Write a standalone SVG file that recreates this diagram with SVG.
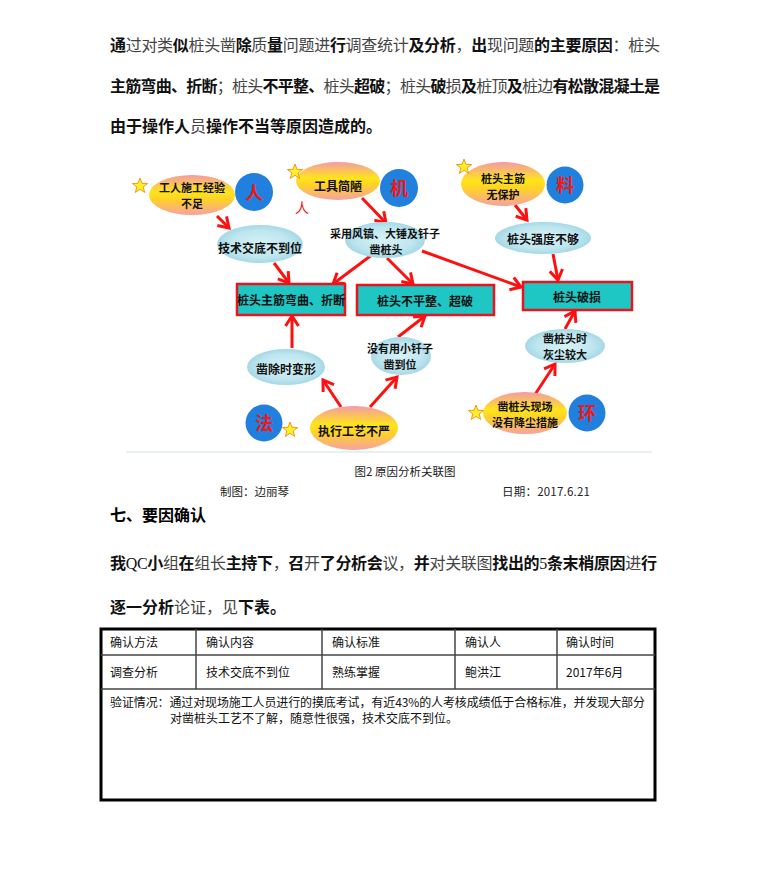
<svg xmlns="http://www.w3.org/2000/svg" xmlns:xlink="http://www.w3.org/1999/xlink" width="767" height="879" viewBox="0 0 767 879">
<style>
text{font-family:"Noto Sans CJK SC","Noto Sans",sans-serif;}
.p{font-size:16px;font-weight:bold;fill:#111;}
.r{font-weight:normal;fill:#444;}
.sf{font-family:"Liberation Serif","Noto Sans CJK SC",serif;font-weight:normal;}
.h{font-size:16px;font-weight:bold;fill:#000;}
.cap{font-size:11.5px;fill:#222;}
.t{font-size:12px;fill:#111;}
.n{font-size:12px;font-weight:bold;fill:#111;text-anchor:middle;dominant-baseline:central;}
.n2{font-size:11px;font-weight:bold;fill:#111;text-anchor:middle;dominant-baseline:central;}
.warm{fill:url(#gWarm);}
.cool{fill:url(#gCool);}
.box{fill:#1ec6c4;stroke:#e8141e;stroke-width:2.5;}
.dot{fill:#2180de;}
.lab{font-size:18px;font-weight:bold;fill:#f01818;text-anchor:middle;dominant-baseline:central;}
.star{fill:#fff02a;stroke:#f09a1a;stroke-width:1;}
.ar{stroke:#ff1010;stroke-width:3;fill:none;marker-end:url(#arw);}
.tl{stroke:#444;stroke-width:1.5;}
</style>
<defs>
<linearGradient id="gWarm" x1="0" y1="0" x2="0" y2="1">
<stop offset="0" stop-color="#f59aa6"/>
<stop offset="0.42" stop-color="#ffe41c"/>
<stop offset="0.6" stop-color="#ffd326"/>
<stop offset="1" stop-color="#f7a2a0"/>
</linearGradient>
<radialGradient id="gCool" cx="0.5" cy="0.5" r="0.5">
<stop offset="0" stop-color="#d6f2f7"/>
<stop offset="0.7" stop-color="#bfe6ef"/>
<stop offset="1" stop-color="#a5d8e6"/>
</radialGradient>
<polygon id="star" class="star" points="0,-8 1.94,-2.67 7.61,-2.47 3.14,1.02 4.7,6.47 0,3.3 -4.7,6.47 -3.14,1.02 -7.61,-2.47 -1.94,-2.67"/>
<marker id="arw" markerUnits="userSpaceOnUse" markerWidth="16" markerHeight="16" refX="12" refY="8" orient="auto" viewBox="0 0 16 16">
<path d="M2,1.5 L12,8 L2,14.5" fill="none" stroke="#ff1010" stroke-width="3" stroke-linejoin="miter"/>
</marker>
</defs>
<rect width="767" height="879" fill="#fff"/>

<g id="intro">
<text class="p" x="110" y="51" textLength="550" lengthAdjust="spacing">通<tspan class="r">过对类</tspan>似<tspan class="r">桩头凿</tspan>除<tspan class="r">质</tspan>量<tspan class="r">问题进</tspan>行<tspan class="r">调查统计</tspan>及分析<tspan class="r">，</tspan>出<tspan class="r">现问题</tspan>的主要原因<tspan class="r">：桩头</tspan></text>
<text class="p" x="110" y="92" textLength="550" lengthAdjust="spacing">主筋弯曲、折断<tspan class="r">；桩头</tspan>不平整、<tspan class="r">桩头</tspan>超破<tspan class="r">；桩头</tspan>破<tspan class="r">损</tspan>及<tspan class="r">桩顶</tspan>及<tspan class="r">桩边</tspan>有松散混凝土是</text>
<text class="p" x="110" y="132">由于操作人<tspan class="r">员</tspan>操作不当等原因造成的。</text>
</g>

<line x1="126" y1="452" x2="652" y2="452" stroke="#e1ebf0" stroke-width="1.5"/>

<g id="connectors">
<line class="ar" x1="217" y1="216" x2="229" y2="228"/>
<line class="ar" x1="274" y1="263" x2="289" y2="283"/>
<line class="ar" x1="362" y1="198" x2="386" y2="223"/>
<line class="ar" x1="373" y1="254" x2="333" y2="284"/>
<line class="ar" x1="387" y1="258" x2="413" y2="284"/>
<line class="ar" x1="422" y1="251" x2="521" y2="287"/>
<line class="ar" x1="515" y1="205" x2="527" y2="220"/>
<line class="ar" x1="553" y1="254" x2="558" y2="280"/>
<line class="ar" x1="292" y1="348" x2="292" y2="316"/>
<line class="ar" x1="398" y1="337" x2="425" y2="316"/>
<line class="ar" x1="341" y1="407" x2="323" y2="380"/>
<line class="ar" x1="370" y1="407" x2="397" y2="377"/>
<line class="ar" x1="534" y1="396" x2="555" y2="364"/>
<line class="ar" x1="565" y1="329" x2="575" y2="311"/>
</g>

<g id="n-worker">
<ellipse class="warm" cx="192" cy="195" rx="43" ry="20"/>
<text class="n2" x="192" y="187">工人施工经验<tspan x="192" dy="16">不足</tspan></text>
<use href="#star" x="140" y="186"/>
</g>
<g id="c-ren"><circle class="dot" cx="254" cy="192" r="19"/><text class="lab" x="254" y="191">人</text></g>

<g id="n-tools">
<ellipse class="warm" cx="338" cy="181" rx="42" ry="19"/>
<text class="n" x="338" y="185">工具简陋</text>
<use href="#star" x="295" y="172"/>
<text x="302" y="207" font-size="14" fill="#f01818" text-anchor="middle" dominant-baseline="central">人</text>
</g>
<g id="c-ji"><circle class="dot" cx="399" cy="188" r="19"/><text class="lab" x="399" y="187">机</text></g>

<g id="n-rebar">
<ellipse class="warm" cx="503" cy="184" rx="42" ry="22"/>
<text class="n2" x="503" y="178">桩头主筋<tspan x="503" dy="16">无保护</tspan></text>
<use href="#star" x="464" y="167"/>
</g>
<g id="c-liao"><circle class="dot" cx="565" cy="185" r="18.5"/><text class="lab" x="565" y="184">料</text></g>

<g id="n-brief">
<ellipse class="cool" cx="260" cy="244" rx="43" ry="19"/>
<text class="n" x="260" y="247">技术交底不到位</text>
</g>

<g id="n-hammer">
<ellipse class="cool" cx="385" cy="240" rx="40" ry="18"/>
<text class="n2" x="385" y="233">采用风镐、大锤及钎子<tspan x="386" dy="16">凿桩头</tspan></text>
</g>

<g id="n-strength">
<ellipse class="cool" cx="543" cy="238" rx="48" ry="16"/>
<text class="n" x="543" y="238">桩头强度不够</text>
</g>

<g id="b-bend">
<rect class="box" x="237" y="284" width="108" height="31"/>
<text class="n" x="291" y="299">桩头主筋弯曲、折断</text>
</g>
<g id="b-uneven">
<rect class="box" x="357" y="285" width="137" height="30"/>
<text class="n" x="425" y="300">桩头不平整、超破</text>
</g>
<g id="b-damage">
<rect class="box" x="523" y="282" width="109" height="28"/>
<text class="n" x="577" y="296">桩头破损</text>
</g>

<g id="n-deform">
<ellipse class="cool" cx="286" cy="367" rx="39" ry="18"/>
<text class="n" x="286" y="368">凿除时变形</text>
</g>

<g id="n-small">
<ellipse class="cool" cx="401" cy="356" rx="30" ry="19"/>
<text class="n2" x="400" y="348">没有用小钎子<tspan x="400" dy="16">凿到位</tspan></text>
</g>

<g id="n-dust">
<ellipse class="cool" cx="565" cy="346" rx="40" ry="17"/>
<text class="n2" x="565" y="338">凿桩头时<tspan x="565" dy="16">灰尘较大</tspan></text>
</g>

<g id="n-process">
<ellipse class="warm" cx="354" cy="428" rx="44" ry="22"/>
<text class="n" x="354" y="430">执行工艺不严</text>
<use href="#star" x="290" y="430"/>
</g>
<g id="c-fa"><circle class="dot" cx="264" cy="423" r="18.5"/><text class="lab" x="264" y="422">法</text></g>

<g id="n-site">
<ellipse class="warm" cx="525" cy="413" rx="42" ry="21"/>
<text class="n2" x="525" y="406">凿桩头现场<tspan x="525" dy="16">没有降尘措施</tspan></text>
<use href="#star" x="476" y="413"/>
</g>
<g id="c-huan"><circle class="dot" cx="587" cy="413" r="18.5"/><text class="lab" x="587" y="412">环</text></g>

<g id="captions">
<text class="cap" x="405" y="476" text-anchor="middle">图2 原因分析关联图</text>
<text class="cap" x="220" y="496">制图：边丽琴</text>
<text class="cap" x="502" y="496" textLength="88" lengthAdjust="spacing">日期：2017.6.21</text>
</g>

<g id="section">
<text class="h" x="110" y="521">七、要因确认</text>
<text class="p" x="110" y="569" textLength="547" lengthAdjust="spacing">我<tspan class="sf">QC</tspan>小<tspan class="r">组</tspan>在<tspan class="r">组长</tspan>主持下<tspan class="r">，</tspan>召<tspan class="r">开</tspan>了分析会<tspan class="r">议，</tspan>并<tspan class="r">对关联图</tspan>找出的<tspan class="sf">5</tspan>条末梢原因<tspan class="r">进</tspan>行</text>
<text class="p" x="110" y="613">逐一分析<tspan class="r">论证，见</tspan>下表。</text>
</g>

<g id="table">
<rect x="101" y="629" width="554" height="171" fill="none" stroke="#000" stroke-width="3"/>
<line class="tl" x1="101" y1="655" x2="655" y2="655"/>
<line class="tl" x1="101" y1="689" x2="655" y2="689"/>
<line class="tl" x1="196" y1="629" x2="196" y2="689"/>
<line class="tl" x1="322" y1="629" x2="322" y2="689"/>
<line class="tl" x1="455" y1="629" x2="455" y2="689"/>
<line class="tl" x1="557" y1="629" x2="557" y2="689"/>
<text class="t" x="110" y="647">确认方法</text>
<text class="t" x="206" y="647">确认内容</text>
<text class="t" x="332" y="647">确认标准</text>
<text class="t" x="465" y="647">确认人</text>
<text class="t" x="566" y="647">确认时间</text>
<text class="t" x="110" y="677">调查分析</text>
<text class="t" x="206" y="677">技术交底不到位</text>
<text class="t" x="332" y="677">熟练掌握</text>
<text class="t" x="465" y="677">鲍洪江</text>
<text class="t" x="566" y="677">2017年6月</text>
<text class="t" x="110" y="707" textLength="535" lengthAdjust="spacing">验证情况：通过对现场施工人员进行的摸底考试，有近43%的人考核成绩低于合格标准，并发现大部分</text>
<text class="t" x="170" y="723">对凿桩头工艺不了解，随意性很强，技术交底不到位。</text>
</g>
</svg>
